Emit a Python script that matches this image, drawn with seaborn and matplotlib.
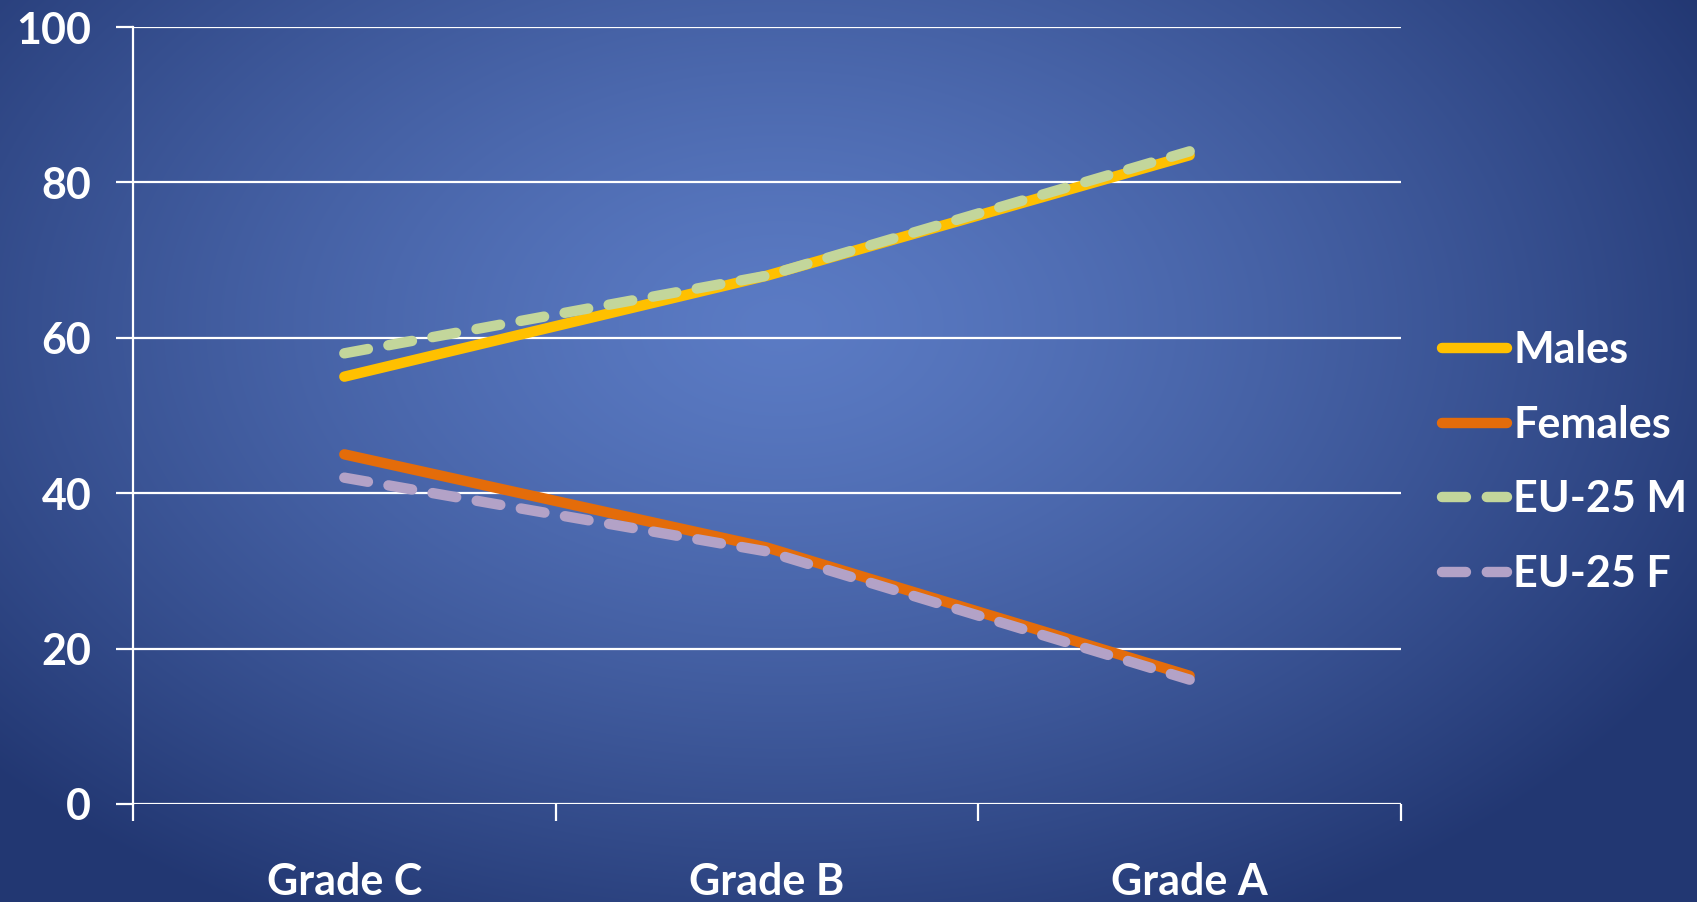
import numpy as np
import pandas as pd
import matplotlib
matplotlib.use("Agg")
import matplotlib.pyplot as plt
import seaborn as sns

# Share of pupils reaching each grade (%)
grades = ["Grade C", "Grade B", "Grade A"]
males = [55, 68, 83.5]
females = [45, 33, 16.5]
eu25_m = [58, 68, 84]
eu25_f = [42, 32.5, 16]
series_names = ["Males", "Females", "EU-25 M", "EU-25 F"]
y_ticks = [0, 20, 40, 60, 80, 100]

df = pd.concat([
    pd.DataFrame({"grade": grades, "value": vals, "series": name})
    for name, vals in zip(series_names, [males, females, eu25_m, eu25_f])
], ignore_index=True)

sns.set_theme(style="white")
plt.rcParams["font.family"] = ["Lato", "DejaVu Sans"]
plt.rcParams["font.weight"] = "bold"

W, H, DPI = 1697, 902, 100
fig = plt.figure(figsize=(W / DPI, H / DPI), dpi=DPI)

# radial blue backdrop
yy, xx = np.mgrid[0:H, 0:W]
cx, cy = 0.46 * W, 0.36 * H
r = np.sqrt(((xx - cx) / (0.62 * W)) ** 2 + ((yy - cy) / (0.75 * H)) ** 2)
r = np.clip(r, 0, 1)
inner = np.array([0x5b, 0x7b, 0xc4]) / 255
outer = np.array([0x22, 0x37, 0x72]) / 255
t = r[..., None] ** 1.3
img = inner * (1 - t) + outer * t
bg = fig.add_axes([0, 0, 1, 1], zorder=-10)
bg.imshow(img, aspect="auto", extent=[0, 1, 0, 1], origin="upper")
bg.axis("off")

ax = fig.add_axes([133 / W, 1 - 804 / H, (1401 - 133) / W, (804 - 27) / H])
ax.patch.set_alpha(0)

LW = 7.5
palette = {"Males": "#ffc000", "Females": "#e46c0a",
           "EU-25 M": "#c3d69b", "EU-25 F": "#b3a2c7"}
dash_map = {"Males": "", "Females": "", "EU-25 M": (2.3, 2.0), "EU-25 F": (2.3, 2.0)}

sns.lineplot(data=df, x="grade", y="value", hue="series", style="series",
             hue_order=series_names, style_order=series_names,
             palette=palette, dashes=dash_map, sort=False,
             linewidth=LW, ax=ax, legend=True)

for i, line in enumerate(ax.get_lines()):
    line.set_solid_capstyle("round")
    line.set_dash_capstyle("round")
    line.set_zorder(3 + i)

ax.set_xlim(-0.5, 2.5)
ax.set_ylim(0, 100)
ax.set_yticks(y_ticks)
ax.set_xticks(range(len(grades)))
ax.set_xticklabels(grades)
ax.set_xticks([-0.5, 0.5, 1.5, 2.5], minor=True)
ax.set_xlabel("")
ax.set_ylabel("")

ax.yaxis.grid(True, color="white", linewidth=1.6)
ax.set_axisbelow(True)
for side in ["top", "right", "bottom"]:
    ax.spines[side].set_visible(False)
ax.spines["left"].set_color("white")
ax.spines["left"].set_linewidth(1.6)

ax.tick_params(axis="y", which="major", length=12, width=1.6, color="white",
               colors="white", labelsize=31, pad=18, left=True)
ax.tick_params(axis="x", which="major", length=0, colors="white",
               labelsize=31, pad=42)
ax.tick_params(axis="x", which="minor", length=12, width=1.6, color="white",
               bottom=True)
for lab in ax.get_xticklabels() + ax.get_yticklabels():
    lab.set_fontweight("bold")

handles, labels = ax.get_legend_handles_labels()
ax.legend_.remove()
leg = fig.legend(handles, labels, loc="center left",
                 bbox_to_anchor=(1425 / W, 1 - 462 / H), frameon=False,
                 fontsize=31, handlelength=1.5, handletextpad=0.15,
                 labelspacing=0.8, borderaxespad=0)
for txt in leg.get_texts():
    txt.set_color("white")
    txt.set_fontweight("bold")
for hl in leg.get_lines():
    hl.set_linewidth(LW)
    hl.set_solid_capstyle("round")
    hl.set_dash_capstyle("round")

fig.savefig("out.png", dpi=DPI)
